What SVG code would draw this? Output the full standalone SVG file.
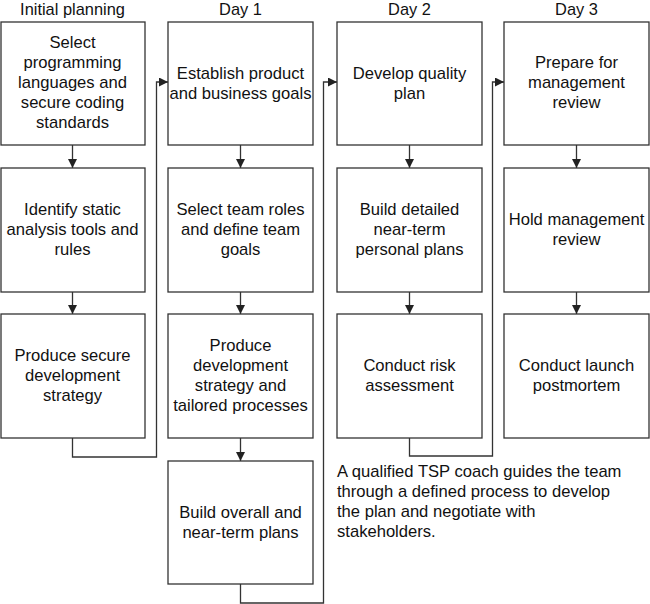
<svg xmlns="http://www.w3.org/2000/svg" width="650" height="604" viewBox="0 0 650 604">
<style>
text{font-family:"Liberation Sans",Arial,Helvetica,sans-serif;font-size:16.6px;fill:#111}
.c{text-anchor:middle}
.h{font-size:16.4px}
.box{fill:#fff;stroke:#333;stroke-width:1.3}
.ln{fill:none;stroke:#333;stroke-width:1.3}
</style>
<defs>
<marker id="ah" viewBox="0 0 10 10" refX="10" refY="5" markerWidth="9" markerHeight="9" markerUnits="userSpaceOnUse" orient="auto">
<path d="M0,0 L10,5 L0,10 z" fill="#222"/>
</marker>
</defs>
<rect width="650" height="604" fill="#fff"/>
<g id="headers">
<text class="c h" x="72.5" y="15">Initial planning</text>
<text class="c h" x="240.5" y="15">Day 1</text>
<text class="c h" x="409.5" y="15">Day 2</text>
<text class="c h" x="576.5" y="15">Day 3</text>
</g>
<g id="connectors">
<path class="ln" d="M72.5,145 V168" marker-end="url(#ah)"/>
<path class="ln" d="M72.5,292 V314" marker-end="url(#ah)"/>
<path class="ln" d="M240.5,145 V168" marker-end="url(#ah)"/>
<path class="ln" d="M240.5,292 V314" marker-end="url(#ah)"/>
<path class="ln" d="M240.5,438 V461" marker-end="url(#ah)"/>
<path class="ln" d="M409.5,145 V168" marker-end="url(#ah)"/>
<path class="ln" d="M409.5,292 V314" marker-end="url(#ah)"/>
<path class="ln" d="M576.5,145 V168" marker-end="url(#ah)"/>
<path class="ln" d="M576.5,292 V314" marker-end="url(#ah)"/>
<path class="ln" d="M72.5,438 V457 H156.5 V82 H168" marker-end="url(#ah)"/>
<path class="ln" d="M240.5,584 V603 H323.5 V82 H337" marker-end="url(#ah)"/>
<path class="ln" d="M409.5,438 V456 H492.5 V82 H504" marker-end="url(#ah)"/>
</g>
<g id="n1">
<rect class="box" x="1" y="22" width="144" height="123"/>
<text class="c" x="72.5" y="48">Select</text>
<text class="c" x="72.5" y="68">programming</text>
<text class="c" x="72.5" y="88">languages and</text>
<text class="c" x="72.5" y="108">secure coding</text>
<text class="c" x="72.5" y="128">standards</text>
</g>
<g id="n2">
<rect class="box" x="1" y="168" width="144" height="124"/>
<text class="c" x="72.5" y="215">Identify static</text>
<text class="c" x="72.5" y="235">analysis tools and</text>
<text class="c" x="72.5" y="255">rules</text>
</g>
<g id="n3">
<rect class="box" x="1" y="314" width="144" height="124"/>
<text class="c" x="72.5" y="361">Produce secure</text>
<text class="c" x="72.5" y="381">development</text>
<text class="c" x="72.5" y="401">strategy</text>
</g>
<g id="n4">
<rect class="box" x="168" y="22" width="145" height="123"/>
<text class="c" x="240.5" y="78.5">Establish product</text>
<text class="c" x="240.5" y="98.5">and business goals</text>
</g>
<g id="n5">
<rect class="box" x="168" y="168" width="145" height="124"/>
<text class="c" x="240.5" y="215">Select team roles</text>
<text class="c" x="240.5" y="235">and define team</text>
<text class="c" x="240.5" y="255">goals</text>
</g>
<g id="n6">
<rect class="box" x="168" y="314" width="145" height="124"/>
<text class="c" x="240.5" y="351">Produce</text>
<text class="c" x="240.5" y="371">development</text>
<text class="c" x="240.5" y="391">strategy and</text>
<text class="c" x="240.5" y="411">tailored processes</text>
</g>
<g id="n7">
<rect class="box" x="168" y="461" width="145" height="123"/>
<text class="c" x="240.5" y="518">Build overall and</text>
<text class="c" x="240.5" y="538">near-term plans</text>
</g>
<g id="n8">
<rect class="box" x="337" y="22" width="145" height="123"/>
<text class="c" x="409.5" y="78.5">Develop quality</text>
<text class="c" x="409.5" y="98.5">plan</text>
</g>
<g id="n9">
<rect class="box" x="337" y="168" width="145" height="124"/>
<text class="c" x="409.5" y="215">Build detailed</text>
<text class="c" x="409.5" y="235">near-term</text>
<text class="c" x="409.5" y="255">personal plans</text>
</g>
<g id="n10">
<rect class="box" x="337" y="314" width="145" height="124"/>
<text class="c" x="409.5" y="371">Conduct risk</text>
<text class="c" x="409.5" y="391">assessment</text>
</g>
<g id="n11">
<rect class="box" x="504" y="22" width="145" height="123"/>
<text class="c" x="576.5" y="68">Prepare for</text>
<text class="c" x="576.5" y="88">management</text>
<text class="c" x="576.5" y="108">review</text>
</g>
<g id="n12">
<rect class="box" x="504" y="168" width="145" height="124"/>
<text class="c" x="576.5" y="225">Hold management</text>
<text class="c" x="576.5" y="245">review</text>
</g>
<g id="n13">
<rect class="box" x="504" y="314" width="145" height="124"/>
<text class="c" x="576.5" y="371">Conduct launch</text>
<text class="c" x="576.5" y="391">postmortem</text>
</g>
<g id="note">
<text x="337" y="477">A qualified TSP coach guides the team</text>
<text x="337" y="497">through a defined process to develop</text>
<text x="337" y="517">the plan and negotiate with</text>
<text x="337" y="537">stakeholders.</text>
</g>
</svg>
